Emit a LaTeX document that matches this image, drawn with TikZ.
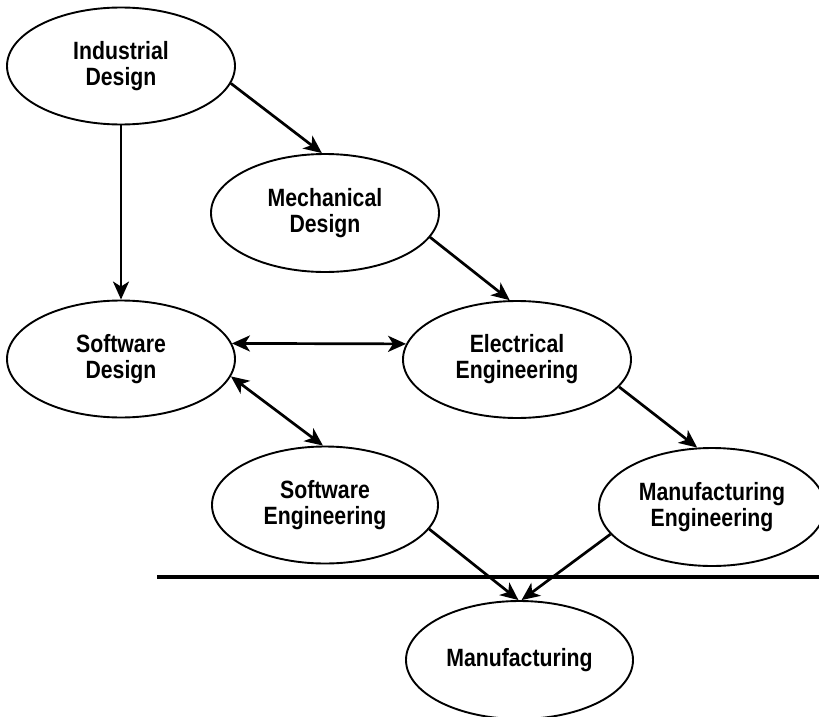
\documentclass[tikz,border=0pt]{standalone}
\usepackage{fontspec}
\setmainfont{Liberation Sans}[FakeStretch=0.85]
\usetikzlibrary{shapes.geometric,arrows.meta}
\begin{document}
\begin{tikzpicture}[x=1pt,y=-1pt,
  oval/.style={ellipse,draw,line width=1.9pt,inner sep=0pt,
    minimum width=228pt,minimum height=117pt,align=center,
    font=\fontsize{25}{26}\selectfont\bfseries},
  flow/.style={line width=2.7pt,-{Stealth[length=18pt,width=16pt,inset=5pt]}},
  both/.style={line width=2.7pt,{Stealth[length=18pt,width=16pt,inset=5pt]}-{Stealth[length=18pt,width=16pt,inset=5pt]}},
  bar/.style={line width=3.8pt}]
\clip (0,0) rectangle (819,717);
\node[oval] (ind) at (121,66) {Industrial\\Design};
\node[oval,minimum height=118pt] (mech) at (325,213) {Mechanical\\Design};
\node[oval] (sd) at (121,359) {Software\\Design};
\node[oval] (ee) at (517,359.5) {Electrical\\Engineering};
\node[oval,minimum width=226pt] (se) at (325,505) {Software\\Engineering};
\node[oval,minimum width=226pt,minimum height=118pt] (me) at (712,507) {Manufacturing\\Engineering};
\node[oval,minimum width=227pt,minimum height=118pt] (mfg) at (519.5,660) {Manufacturing};
\coordinate (barL) at (157,577);
\coordinate (barR) at (819,577);
\draw[bar] (barL) -- (barR);
\draw[flow] (ind.-9) -- (mech.93);
\draw[flow] (ind.south) -- (sd.north);
\draw[flow] (mech.-13.6) -- (ee.97);
\draw[both] (sd.8) -- (ee.172);
\draw[both] (sd.-9) -- (se.92);
\draw[flow] (ee.-15.2) -- (me.104);
\draw[flow] (se.-13.6) -- (mfg.91);
\draw[flow] (me.-165.2) -- (mfg.88.5);
\end{tikzpicture}
\end{document}
